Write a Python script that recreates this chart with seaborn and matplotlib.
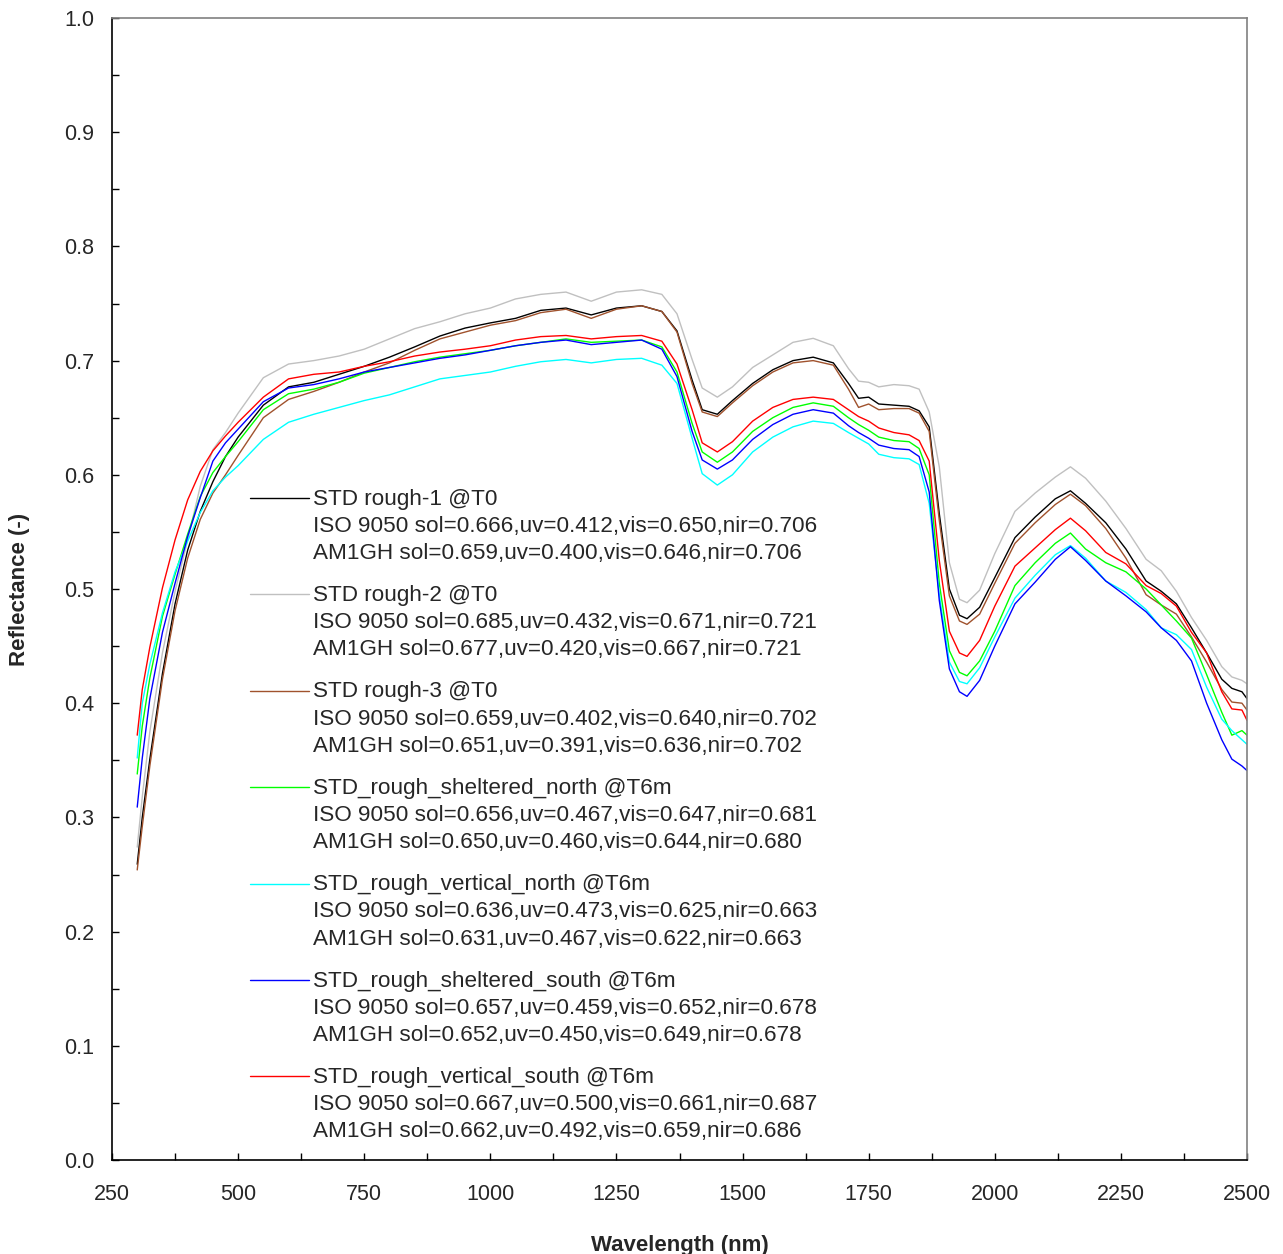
import numpy as np
import pandas as pd
import matplotlib
matplotlib.use('Agg')
import matplotlib.pyplot as plt
from matplotlib.legend_handler import HandlerLine2D
from matplotlib.ticker import MultipleLocator
import seaborn as sns

# wavelength grid (nm) the values below were read at
wavelength = [300, 310, 325, 350, 375, 400, 425, 450, 475, 500, 550, 600, 650, 700, 750,
              800, 850, 900, 950, 1000, 1050, 1100, 1150, 1200, 1250, 1300, 1340, 1370,
              1400, 1420, 1450, 1480, 1520, 1560, 1600, 1640, 1680, 1710, 1730, 1750,
              1770, 1800, 1830, 1850, 1870, 1890, 1910, 1930, 1945, 1970, 2000, 2040,
              2080, 2120, 2150, 2180, 2220, 2260, 2300, 2330, 2360, 2390, 2420, 2450,
              2470, 2490, 2500]

rough_1 = [0.259, 0.300, 0.351, 0.426, 0.487, 0.534, 0.568, 0.594, 0.616, 0.633, 0.661,
           0.677, 0.681, 0.688, 0.695, 0.703, 0.712, 0.7215, 0.7285, 0.733, 0.737, 0.744,
           0.746, 0.740, 0.746, 0.748, 0.743, 0.726, 0.683, 0.657, 0.653, 0.665, 0.680,
           0.692, 0.700, 0.703, 0.698, 0.680, 0.667, 0.668, 0.662, 0.661, 0.660, 0.656,
           0.642, 0.566, 0.500, 0.477, 0.474, 0.484, 0.510, 0.545, 0.563, 0.579, 0.586,
           0.575, 0.558, 0.535, 0.507, 0.498, 0.487, 0.466, 0.444, 0.421, 0.413, 0.410,
           0.404]

rough_2 = [0.274, 0.318, 0.375, 0.444, 0.498, 0.543, 0.590, 0.622, 0.637, 0.654, 0.685,
           0.697, 0.700, 0.704, 0.710, 0.719, 0.728, 0.734, 0.741, 0.746, 0.754, 0.758,
           0.760, 0.752, 0.760, 0.762, 0.758, 0.741, 0.701, 0.676, 0.668, 0.677, 0.694,
           0.705, 0.716, 0.7195, 0.713, 0.693, 0.682, 0.681, 0.677, 0.679, 0.678, 0.675,
           0.655, 0.607, 0.523, 0.491, 0.488, 0.499, 0.531, 0.568, 0.584, 0.598, 0.607,
           0.597, 0.577, 0.553, 0.526, 0.516, 0.498, 0.475, 0.455, 0.432, 0.423, 0.420,
           0.417]

rough_3 = [0.254, 0.292, 0.345, 0.421, 0.481, 0.527, 0.561, 0.584, 0.600, 0.617, 0.650,
           0.666, 0.673, 0.681, 0.690, 0.698, 0.709, 0.719, 0.725, 0.731, 0.735, 0.742,
           0.745, 0.737, 0.745, 0.748, 0.743, 0.725, 0.680, 0.655, 0.651, 0.663, 0.678,
           0.690, 0.698, 0.700, 0.696, 0.675, 0.659, 0.662, 0.657, 0.658, 0.658, 0.654,
           0.638, 0.560, 0.494, 0.472, 0.469, 0.478, 0.505, 0.540, 0.558, 0.574, 0.583,
           0.573, 0.553, 0.527, 0.495, 0.486, 0.478, 0.458, 0.436, 0.412, 0.401, 0.400,
           0.394]

sheltered_north = [0.338, 0.380, 0.422, 0.476, 0.513, 0.548, 0.581, 0.602, 0.616, 0.629,
                   0.657, 0.671, 0.675, 0.681, 0.689, 0.694, 0.699, 0.703, 0.706, 0.709,
                   0.713, 0.716, 0.719, 0.716, 0.717, 0.718, 0.712, 0.690, 0.645, 0.620,
                   0.611, 0.620, 0.638, 0.650, 0.659, 0.663, 0.660, 0.650, 0.644, 0.639,
                   0.633, 0.630, 0.629, 0.623, 0.600, 0.505, 0.446, 0.427, 0.424, 0.437,
                   0.463, 0.503, 0.523, 0.540, 0.549, 0.535, 0.523, 0.515, 0.500, 0.486,
                   0.472, 0.457, 0.425, 0.392, 0.372, 0.376, 0.372]

vertical_north = [0.352, 0.400, 0.434, 0.479, 0.515, 0.542, 0.567, 0.586, 0.598, 0.608,
                  0.631, 0.646, 0.653, 0.659, 0.665, 0.670, 0.677, 0.684, 0.687, 0.690,
                  0.695, 0.699, 0.701, 0.698, 0.701, 0.702, 0.696, 0.680, 0.632, 0.601,
                  0.591, 0.600, 0.620, 0.633, 0.642, 0.647, 0.645, 0.637, 0.632, 0.627,
                  0.618, 0.615, 0.614, 0.609, 0.575, 0.495, 0.436, 0.419, 0.417, 0.431,
                  0.458, 0.492, 0.512, 0.530, 0.538, 0.527, 0.507, 0.497, 0.482, 0.466,
                  0.460, 0.447, 0.414, 0.386, 0.376, 0.368, 0.364]

sheltered_south = [0.309, 0.352, 0.404, 0.462, 0.505, 0.546, 0.580, 0.612, 0.628, 0.640,
                   0.664, 0.676, 0.679, 0.684, 0.690, 0.694, 0.698, 0.702, 0.705, 0.709,
                   0.713, 0.716, 0.718, 0.714, 0.716, 0.718, 0.710, 0.686, 0.638, 0.613,
                   0.605, 0.613, 0.631, 0.644, 0.653, 0.657, 0.654, 0.643, 0.637, 0.632,
                   0.626, 0.623, 0.622, 0.616, 0.585, 0.490, 0.430, 0.410, 0.406, 0.420,
                   0.450, 0.487, 0.506, 0.526, 0.537, 0.525, 0.507, 0.494, 0.480, 0.466,
                   0.455, 0.437, 0.400, 0.368, 0.351, 0.345, 0.341]

vertical_south = [0.372, 0.412, 0.449, 0.501, 0.543, 0.578, 0.603, 0.621, 0.634, 0.646,
                  0.668, 0.684, 0.688, 0.690, 0.695, 0.699, 0.704, 0.7075, 0.710, 0.713,
                  0.718, 0.721, 0.722, 0.719, 0.721, 0.722, 0.717, 0.697, 0.657, 0.628,
                  0.620, 0.629, 0.647, 0.659, 0.666, 0.668, 0.666, 0.657, 0.651, 0.647,
                  0.641, 0.637, 0.635, 0.630, 0.612, 0.525, 0.463, 0.444, 0.441, 0.455,
                  0.485, 0.520, 0.536, 0.552, 0.562, 0.551, 0.532, 0.522, 0.503, 0.496,
                  0.485, 0.462, 0.444, 0.410, 0.395, 0.394, 0.385]

series_names = ['STD rough-1 @T0', 'STD rough-2 @T0', 'STD rough-3 @T0',
                'STD_rough_sheltered_north @T6m', 'STD_rough_vertical_north @T6m',
                'STD_rough_sheltered_south @T6m', 'STD_rough_vertical_south @T6m']
series_values = [rough_1, rough_2, rough_3, sheltered_north, vertical_north,
                 sheltered_south, vertical_south]
series_colors = ['#000000', '#c0c0c0', '#a0522d', '#00ff00', '#00ffff', '#0000ff', '#ff0000']

iso_values = ['sol=0.666,uv=0.412,vis=0.650,nir=0.706',
              'sol=0.685,uv=0.432,vis=0.671,nir=0.721',
              'sol=0.659,uv=0.402,vis=0.640,nir=0.702',
              'sol=0.656,uv=0.467,vis=0.647,nir=0.681',
              'sol=0.636,uv=0.473,vis=0.625,nir=0.663',
              'sol=0.657,uv=0.459,vis=0.652,nir=0.678',
              'sol=0.667,uv=0.500,vis=0.661,nir=0.687']
am1gh_values = ['sol=0.659,uv=0.400,vis=0.646,nir=0.706',
                'sol=0.677,uv=0.420,vis=0.667,nir=0.721',
                'sol=0.651,uv=0.391,vis=0.636,nir=0.702',
                'sol=0.650,uv=0.460,vis=0.644,nir=0.680',
                'sol=0.631,uv=0.467,vis=0.622,nir=0.663',
                'sol=0.652,uv=0.450,vis=0.649,nir=0.678',
                'sol=0.662,uv=0.492,vis=0.659,nir=0.686']


class TopLineHandler(HandlerLine2D):
    """Put the legend line next to the first line of a multi-line label"""

    def create_artists(self, legend, orig_handle, xdescent, ydescent, width, height,
                       fontsize, trans):
        artists = super().create_artists(legend, orig_handle, xdescent, ydescent,
                                         width, height, fontsize, trans)
        for a in artists:
            a.set_ydata(np.asarray(a.get_ydata()) + 20.5)
        return artists


frames = []
for name, vals in zip(series_names, series_values):
    frames.append(pd.DataFrame({'wavelength': wavelength, 'reflectance': vals, 'series': name}))
df = pd.concat(frames, ignore_index=True)

sns.set_style('ticks')
plt.rcParams['font.family'] = ['Liberation Sans', 'DejaVu Sans']

fig = plt.figure(figsize=(12.83, 12.54), dpi=100)
ax = fig.add_axes([112 / 1283, 94 / 1254, 1135 / 1283, 1142 / 1254])

sns.lineplot(data=df, x='wavelength', y='reflectance', hue='series',
             hue_order=series_names, palette=dict(zip(series_names, series_colors)),
             linewidth=1.0, legend=False, sort=False, estimator=None, ax=ax)

ax.set_xlim(250, 2500)
ax.set_ylim(0, 1.0)
ax.xaxis.set_major_locator(MultipleLocator(250))
ax.xaxis.set_minor_locator(MultipleLocator(125))
ax.yaxis.set_major_locator(MultipleLocator(0.1))
ax.yaxis.set_minor_locator(MultipleLocator(0.05))
ax.xaxis.set_major_formatter(lambda v, p: f'{v:.0f}')
ax.yaxis.set_major_formatter(lambda v, p: f'{v:.1f}')
ax.tick_params(which='both', direction='in', length=5, width=1, color='black')
ax.tick_params(axis='x', which='major', labelsize=15.5, pad=17)
ax.tick_params(axis='y', which='major', labelsize=15.5, pad=13)

for side in ['left', 'bottom']:
    ax.spines[side].set_color('black')
    ax.spines[side].set_linewidth(1.2)
for side in ['top', 'right']:
    ax.spines[side].set_color('#808080')
    ax.spines[side].set_linewidth(1.2)

ax.set_xlabel('Wavelength (nm)', fontsize=16, fontweight='bold', labelpad=22)
ax.set_ylabel('Reflectance (-)', fontsize=16, fontweight='bold', labelpad=24)

labels = [f'{n}\nISO 9050 {i}\nAM1GH {a}' for n, i, a in zip(series_names, iso_values, am1gh_values)]
leg = ax.legend(ax.lines[:len(series_names)], labels, loc='upper left',
                bbox_to_anchor=(0.1216, 0.588), frameon=False, fontsize=16.2,
                handlelength=2.6, handletextpad=0.2, labelspacing=0.93,
                borderpad=0, borderaxespad=0,
                handler_map={plt.Line2D: TopLineHandler()})
for t in leg.get_texts():
    t.set_linespacing(1.39)

fig.savefig('out.png', dpi=100)
